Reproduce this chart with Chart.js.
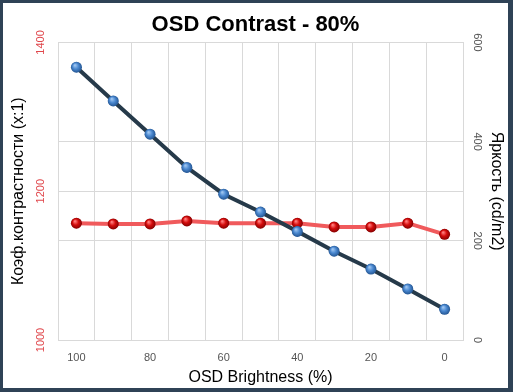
<!DOCTYPE html>
<html>
<head>
<meta charset="utf-8">
<script src="https://cdn.jsdelivr.net/npm/chart.js@4"></script>
<style>
  body { margin: 0; background: #2f4256; }
  #frame { position: absolute; left: 3px; top: 3px; width: 505px; height: 385px; background: #fff; }
</style>
</head>
<body>
<div id="frame"><canvas id="chart" width="505" height="385"></canvas></div>
<script>
// OSD brightness steps (x axis)
const brightnessSteps = ['100', '90', '80', '70', '60', '50', '40', '30', '20', '10', '0'];
// luminance, cd/m2 (right axis)
const luminance = [550, 482, 415, 348, 294, 258, 219, 179, 143, 103, 62];
// contrast ratio x:1 (left axis)
const contrast = [1157, 1156, 1156, 1160, 1157, 1157, 1157, 1152, 1152, 1157, 1142];

const gridColor = '#d9d9d9';
const fontFamily = '"Liberation Sans", Arial, sans-serif';

// glossy shading on top of the library's points (per dataset, keeps draw order)
const shades = {
    'Яркость': ['#9cc4f0', '#4a88d0', '#1f4f8a'],
    'Контраст': ['#ff7a7a', '#d40c0c', '#7a0000']
};
const glossyPoints = {
    id: 'glossyPoints',
    afterDatasetDraw(chart, args) {
        const ctx = chart.ctx;
        const meta = args.meta;
        const c = shades[chart.data.datasets[args.index].label];
        meta.data.forEach(pt => {
            const g = ctx.createRadialGradient(pt.x - 1.5, pt.y - 2, 0.5, pt.x, pt.y, 6);
            g.addColorStop(0, c[0]);
            g.addColorStop(0.45, c[1]);
            g.addColorStop(1, c[2]);
            ctx.save();
            ctx.fillStyle = g;
            ctx.beginPath();
            ctx.arc(pt.x, pt.y, 5.5, 0, Math.PI * 2);
            ctx.fill();
            ctx.restore();
        });
    }
};

// draws the rotated y tick labels at the scale's own tick positions
const rotatedTicks = {
    id: 'rotatedTicks',
    afterDraw(chart) {
        const ctx = chart.ctx;
        const draw = (scale, x, angle, color) => {
            ctx.save();
            ctx.fillStyle = color;
            ctx.font = '11px ' + fontFamily;
            ctx.textAlign = 'center';
            ctx.textBaseline = 'middle';
            scale.ticks.forEach(t => {
                const y = scale.getPixelForValue(t.value);
                ctx.save();
                ctx.translate(x, y);
                ctx.rotate(angle);
                ctx.fillText(String(t.value), 0, 0);
                ctx.restore();
            });
            ctx.restore();
        };
        draw(chart.scales.y, 38, -Math.PI / 2, '#e0474c');
        draw(chart.scales.y1, 474, Math.PI / 2, '#555');
    }
};

new Chart(document.getElementById('chart'), {
    type: 'line',
    data: {
        labels: brightnessSteps,
        datasets: [{
            label: 'Яркость',
            data: luminance,
            yAxisID: 'y1',
            borderColor: '#263a4a',
            borderWidth: 4,
            pointRadius: 5,
            pointBackgroundColor: '#4a88d0',
            pointBorderWidth: 0,
            tension: 0
        }, {
            label: 'Контраст',
            data: contrast,
            yAxisID: 'y',
            borderColor: '#f05a5c',
            borderWidth: 4,
            pointRadius: 5,
            pointBackgroundColor: '#d40c0c',
            pointBorderWidth: 0,
            tension: 0
        }]
    },
    options: {
        responsive: false,
        animation: false,
        layout: { padding: 0 },
        plugins: {
            legend: { display: false },
            tooltip: { enabled: false },
            title: {
                display: true,
                text: 'OSD Contrast - 80%',
                color: '#000',
                font: { family: fontFamily, size: 22, weight: 'bold' },
                padding: { top: 9, bottom: 4 }
            }
        },
        scales: {
            x: {
                offset: true,
                grid: { color: gridColor, offset: true, drawTicks: false },
                border: { color: gridColor },
                ticks: {
                    autoSkip: false,
                    maxRotation: 0,
                    padding: 11,
                    color: '#555',
                    font: { family: fontFamily, size: 11 },
                    callback: function(val, i) { return i % 2 === 0 ? this.getLabelForValue(val) : ''; }
                },
                title: {
                    display: true,
                    text: 'OSD Brightness (%)',
                    color: '#000',
                    font: { family: fontFamily, size: 16 },
                    padding: { top: 0, bottom: 1 }
                },
                afterFit: s => { s.height = 48; }
            },
            y: {
                position: 'left',
                min: 1000,
                max: 1400,
                ticks: { stepSize: 200, display: false },
                grid: { color: gridColor, drawTicks: false },
                border: { color: gridColor },
                title: {
                    display: true,
                    text: 'Коэф.контрастности (x:1)',
                    color: '#000',
                    font: { family: fontFamily, size: 16 },
                    padding: { top: 6, bottom: 0 }
                },
                afterFit: s => { s.width = 55; }
            },
            y1: {
                position: 'right',
                min: 0,
                max: 600,
                ticks: { stepSize: 200, display: false },
                grid: { color: gridColor, drawTicks: false },
                border: { color: gridColor },
                title: {
                    display: true,
                    text: 'Яркость (cd/m2)',
                    color: '#000',
                    font: { family: fontFamily, size: 16 },
                    padding: { top: 2, bottom: 0 }
                },
                afterFit: s => { s.width = 45; }
            }
        }
    },
    plugins: [glossyPoints, rotatedTicks]
});
</script>
</body>
</html>
